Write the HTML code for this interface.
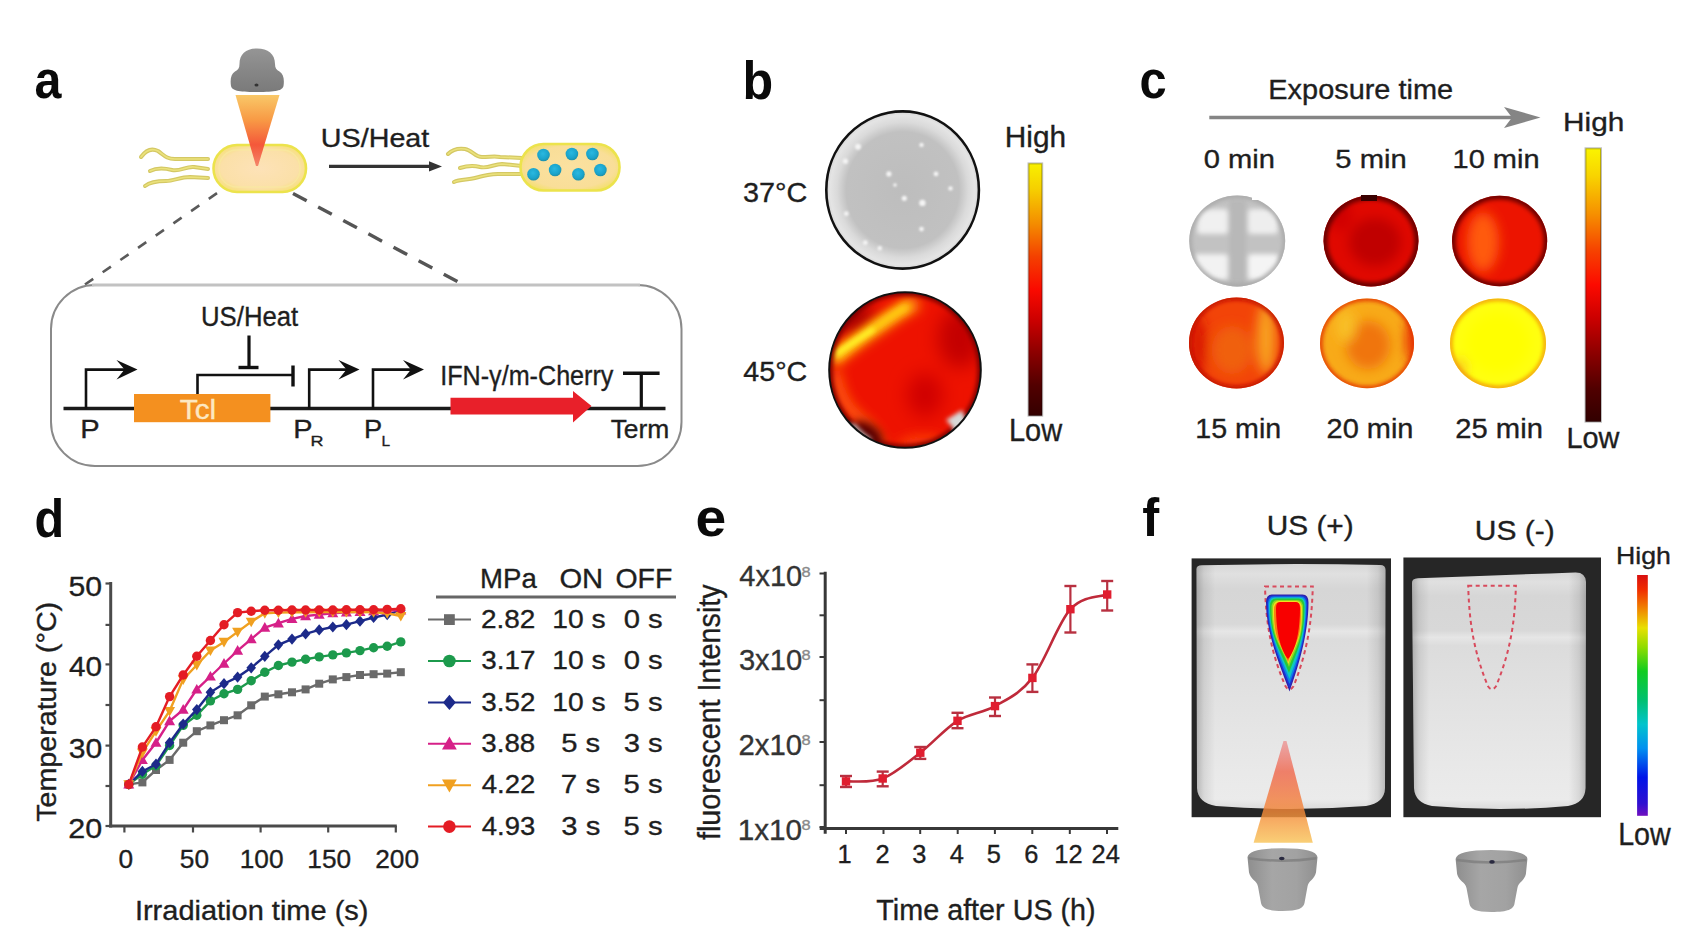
<!DOCTYPE html>
<html><head><meta charset="utf-8"><title>Figure</title>
<style>
html,body{margin:0;padding:0;background:#fff;}
body{width:1704px;height:938px;overflow:hidden;}
svg{display:block;}
text{font-family:"Liberation Sans",Arial,Helvetica,sans-serif;}
</style></head><body>
<svg width="1704" height="938" viewBox="0 0 1704 938">
<defs>
<linearGradient id="coneA" x1="0" y1="0" x2="0" y2="1">
<stop offset="0" stop-color="#f9c868"/><stop offset="0.35" stop-color="#f89a45"/>
<stop offset="0.7" stop-color="#f4583a"/><stop offset="1" stop-color="#f04a3a" stop-opacity="0.6"/></linearGradient>
<linearGradient id="transA" x1="0" y1="0" x2="0" y2="1">
<stop offset="0" stop-color="#959595"/><stop offset="0.5" stop-color="#878787"/><stop offset="1" stop-color="#7a7a7a"/></linearGradient>
<radialGradient id="bactA" cx="0.5" cy="0.5" r="0.6">
<stop offset="0" stop-color="#fde2b8"/><stop offset="0.7" stop-color="#fbe0a8"/><stop offset="1" stop-color="#f6e070"/></radialGradient>
<radialGradient id="bactB" cx="0.5" cy="0.5" r="0.6">
<stop offset="0" stop-color="#fbe1a0"/><stop offset="0.75" stop-color="#f9de98"/><stop offset="1" stop-color="#f2e060"/></radialGradient>
<radialGradient id="dotB" cx="0.45" cy="0.4" r="0.6">
<stop offset="0" stop-color="#2ab8e0"/><stop offset="0.7" stop-color="#1aa4cc"/><stop offset="1" stop-color="#2090a8"/></radialGradient>
<filter id="bl2" filterUnits="userSpaceOnUse" x="0" y="0" width="1704" height="938"><feGaussianBlur stdDeviation="2"/></filter>
<filter id="bl4" filterUnits="userSpaceOnUse" x="0" y="0" width="1704" height="938"><feGaussianBlur stdDeviation="4"/></filter>
<filter id="bl6" filterUnits="userSpaceOnUse" x="0" y="0" width="1704" height="938"><feGaussianBlur stdDeviation="6"/></filter>
<filter id="bl9" filterUnits="userSpaceOnUse" x="0" y="0" width="1704" height="938"><feGaussianBlur stdDeviation="9"/></filter>
<filter id="bl1" filterUnits="userSpaceOnUse" x="0" y="0" width="1704" height="938"><feGaussianBlur stdDeviation="1"/></filter>
<linearGradient id="hotbar" x1="0" y1="0" x2="0" y2="1">
<stop offset="0" stop-color="#f8f000"/><stop offset="0.1" stop-color="#f6d000"/><stop offset="0.24" stop-color="#f48c00"/>
<stop offset="0.37" stop-color="#f44000"/><stop offset="0.5" stop-color="#fa0a00"/><stop offset="0.62" stop-color="#cc0000"/><stop offset="0.75" stop-color="#8c0000"/>
<stop offset="0.88" stop-color="#520000"/><stop offset="1" stop-color="#340000"/></linearGradient>
<linearGradient id="hotbarC" x1="0" y1="0" x2="0" y2="1">
<stop offset="0" stop-color="#faf400"/><stop offset="0.1" stop-color="#f8d400"/><stop offset="0.24" stop-color="#f69000"/>
<stop offset="0.37" stop-color="#f64400"/><stop offset="0.5" stop-color="#fc0a00"/><stop offset="0.62" stop-color="#cc0000"/><stop offset="0.75" stop-color="#8c0000"/>
<stop offset="0.88" stop-color="#500000"/><stop offset="1" stop-color="#320000"/></linearGradient>
<radialGradient id="gray37" cx="0.5" cy="0.5" r="0.5">
<stop offset="0" stop-color="#bdbdbd"/><stop offset="0.74" stop-color="#c1c1c1"/><stop offset="0.86" stop-color="#dadada"/><stop offset="0.95" stop-color="#e4e4e4"/><stop offset="1" stop-color="#d6d6d6"/></radialGradient>
<clipPath id="c45"><ellipse cx="905" cy="370" rx="75.5" ry="77.5"/></clipPath>
<clipPath id="c37"><ellipse cx="902.6" cy="190" rx="76" ry="78.3"/></clipPath>
<clipPath id="cc0"><ellipse cx="1237.2" cy="241" rx="48" ry="45.5"/></clipPath>
<filter id="bl25" filterUnits="userSpaceOnUse" x="0" y="0" width="1704" height="938"><feGaussianBlur stdDeviation="2.5"/></filter>
<clipPath id="cc5"><ellipse cx="1371" cy="241" rx="47.5" ry="45.5"/></clipPath>
<clipPath id="cc10"><ellipse cx="1499.6" cy="241" rx="47.6" ry="45.3"/></clipPath>
<clipPath id="cc15"><ellipse cx="1236.5" cy="343" rx="47.5" ry="45.5"/></clipPath>
<clipPath id="cc20"><ellipse cx="1367" cy="343.4" rx="47" ry="44.8"/></clipPath>
<clipPath id="cc25"><ellipse cx="1498" cy="343.4" rx="48" ry="44.8"/></clipPath>
<linearGradient id="bottleV" x1="0" y1="0" x2="0" y2="1">
<stop offset="0" stop-color="#d6d6d6"/><stop offset="0.04" stop-color="#e0e0e0"/><stop offset="0.1" stop-color="#d6d6d6"/><stop offset="0.245" stop-color="#d8d8d8"/><stop offset="0.275" stop-color="#e6e6e6"/>
<stop offset="0.31" stop-color="#dcdcdc"/><stop offset="0.55" stop-color="#e2e2e2"/><stop offset="0.85" stop-color="#e9e9e9"/><stop offset="0.96" stop-color="#ebebeb"/><stop offset="1" stop-color="#dadada"/></linearGradient>
<linearGradient id="bottleH" x1="0" y1="0" x2="1" y2="0">
<stop offset="0" stop-color="#000" stop-opacity="0.22"/><stop offset="0.04" stop-color="#000" stop-opacity="0.08"/><stop offset="0.1" stop-color="#000" stop-opacity="0"/>
<stop offset="0.9" stop-color="#000" stop-opacity="0"/><stop offset="0.96" stop-color="#000" stop-opacity="0.08"/><stop offset="1" stop-color="#000" stop-opacity="0.22"/></linearGradient>
<linearGradient id="rainbow" x1="0" y1="0" x2="0" y2="1">
<stop offset="0" stop-color="#d81010"/><stop offset="0.06" stop-color="#f02c00"/><stop offset="0.14" stop-color="#f08400"/>
<stop offset="0.22" stop-color="#e8e000"/><stop offset="0.3" stop-color="#90dc00"/><stop offset="0.4" stop-color="#10cc20"/><stop offset="0.52" stop-color="#00c070"/>
<stop offset="0.62" stop-color="#00c4cc"/><stop offset="0.72" stop-color="#0090f0"/><stop offset="0.84" stop-color="#0014e8"/><stop offset="0.95" stop-color="#3010d0"/><stop offset="1" stop-color="#7010c0"/></linearGradient>
<linearGradient id="coneF" x1="0" y1="0" x2="0" y2="1">
<stop offset="0" stop-color="#f05858" stop-opacity="0.55"/><stop offset="0.3" stop-color="#f05a3c" stop-opacity="0.9"/>
<stop offset="0.7" stop-color="#f48a38"/><stop offset="1" stop-color="#f8c458"/></linearGradient>
<linearGradient id="transF" x1="0" y1="0" x2="1" y2="0">
<stop offset="0" stop-color="#8e8e8e"/><stop offset="0.35" stop-color="#a6a6a6"/><stop offset="0.7" stop-color="#a2a2a2"/><stop offset="1" stop-color="#909090"/></linearGradient>
</defs>
<rect width="1704" height="938" fill="#fff"/>
<text x="34.58" y="98.30" font-size="53.50" font-weight="bold" fill="#0a0a0a" textLength="26.91" lengthAdjust="spacingAndGlyphs">a</text>
<text x="742.39" y="98.50" font-size="53.50" font-weight="bold" fill="#0a0a0a" textLength="30.67" lengthAdjust="spacingAndGlyphs">b</text>
<text x="1139.49" y="97.60" font-size="53.50" font-weight="bold" fill="#0a0a0a" textLength="27.14" lengthAdjust="spacingAndGlyphs">c</text>
<text x="34.61" y="537.20" font-size="53.50" font-weight="bold" fill="#0a0a0a" textLength="29.70" lengthAdjust="spacingAndGlyphs">d</text>
<text x="695.44" y="536.00" font-size="53.50" font-weight="bold" fill="#0a0a0a" textLength="30.75" lengthAdjust="spacingAndGlyphs">e</text>
<text x="1142.13" y="536.30" font-size="53.50" font-weight="bold" fill="#0a0a0a" textLength="16.97" lengthAdjust="spacingAndGlyphs">f</text>
<line x1="85" y1="284.5" x2="218" y2="192.5" stroke="#5a5a5a" stroke-width="2.6" stroke-dasharray="10 11.5"/>
<line x1="293" y1="193.5" x2="463" y2="284.5" stroke="#555" stroke-width="3.4" stroke-dasharray="15.5 13"/>
<path d="M141,157 C146,150 152,148 158,151 C164,155 166,159 175,159 L208,159" transform="translate(0,0)" fill="none" stroke="#d4c864" stroke-width="4" stroke-linecap="round"/><path d="M141,157 C146,150 152,148 158,151 C164,155 166,159 175,159 L208,159" transform="translate(0,0)" fill="none" stroke="#ebe27c" stroke-width="1.6" stroke-linecap="round"/><path d="M150,171 C156,168 164,168 172,170 C180,172 186,166 194,167 L208,169" transform="translate(0,0)" fill="none" stroke="#d4c864" stroke-width="4" stroke-linecap="round"/><path d="M150,171 C156,168 164,168 172,170 C180,172 186,166 194,167 L208,169" transform="translate(0,0)" fill="none" stroke="#ebe27c" stroke-width="1.6" stroke-linecap="round"/><path d="M145,186 C150,182 158,181 166,181 C174,181 180,177 190,177 L208,178" transform="translate(0,0)" fill="none" stroke="#d4c864" stroke-width="4" stroke-linecap="round"/><path d="M145,186 C150,182 158,181 166,181 C174,181 180,177 190,177 L208,178" transform="translate(0,0)" fill="none" stroke="#ebe27c" stroke-width="1.6" stroke-linecap="round"/>
<rect x="213.5" y="145" width="92.5" height="47" rx="23.5" fill="url(#bactA)" stroke="#ece34c" stroke-width="2.6"/>
<rect x="219" y="150" width="81" height="37" rx="18" fill="none" stroke="#f8eaa0" stroke-width="1.5" opacity="0.7"/>
<path d="M231,86 C230,79 231,74 235,71.5 C238,70 239.5,68 239.5,64 C239.5,54 246,48.5 257,48.5 C268,48.5 275,54 275,64 C275,68 276.5,70 279.5,71.5 C283.5,74 284.5,79 283.5,86 C282.5,90.5 276,92 257,92 C238,92 232,90.5 231,86 Z" fill="url(#transA)"/>
<ellipse cx="256.5" cy="85" rx="2" ry="1.5" fill="#333"/>
<line x1="236" y1="93.6" x2="279" y2="93.6" stroke="#fff" stroke-width="1.5"/>
<path d="M235.5,95 L279.5,95 L258,166 L256,166 Z" fill="url(#coneA)"/>
<line x1="329" y1="166.4" x2="431" y2="166.4" stroke="#333" stroke-width="3.3"/>
<path d="M429,161.3 L442,166.4 L429,171.5 Z" fill="#333"/>
<text x="320.89" y="146.60" font-size="26.16" stroke="#1e1e1e" stroke-width="0.35" fill="#1e1e1e" textLength="108.42" lengthAdjust="spacingAndGlyphs">US/Heat</text>
<path d="M448,154 C452,150 458,148 465,149 C472,150 475,157 482,157 C490,157 495,156 500,157 L522,158" fill="none" stroke="#d4c864" stroke-width="4" stroke-linecap="round"/><path d="M448,154 C452,150 458,148 465,149 C472,150 475,157 482,157 C490,157 495,156 500,157 L522,158" fill="none" stroke="#ebe27c" stroke-width="1.6" stroke-linecap="round"/><path d="M460,168 C466,166 473,165 480,167 C488,169 494,164 502,164 L522,166" fill="none" stroke="#d4c864" stroke-width="4" stroke-linecap="round"/><path d="M460,168 C466,166 473,165 480,167 C488,169 494,164 502,164 L522,166" fill="none" stroke="#ebe27c" stroke-width="1.6" stroke-linecap="round"/><path d="M454,182 C460,179 468,180 475,178 C482,176 490,174 498,174 L522,174" fill="none" stroke="#d4c864" stroke-width="4" stroke-linecap="round"/><path d="M454,182 C460,179 468,180 475,178 C482,176 490,174 498,174 L522,174" fill="none" stroke="#ebe27c" stroke-width="1.6" stroke-linecap="round"/>
<rect x="520.5" y="144" width="99" height="46.5" rx="23" fill="url(#bactB)" stroke="#ece34c" stroke-width="2.6"/>
<circle cx="543.5" cy="155" r="6.3" fill="url(#dotB)"/>
<circle cx="571.9" cy="154" r="6.3" fill="url(#dotB)"/>
<circle cx="592.4" cy="154" r="6.3" fill="url(#dotB)"/>
<circle cx="533.5" cy="174.2" r="6.3" fill="url(#dotB)"/>
<circle cx="555.1" cy="170" r="6.3" fill="url(#dotB)"/>
<circle cx="578.4" cy="174.2" r="6.3" fill="url(#dotB)"/>
<circle cx="600.4" cy="170" r="6.3" fill="url(#dotB)"/>
<rect x="51" y="285" width="630.5" height="181" rx="44" fill="#fff" stroke="#8a8a8a" stroke-width="2"/>
<line x1="92" y1="285" x2="640" y2="285" stroke="#c2c2c2" stroke-width="3"/>
<line x1="63.5" y1="408.5" x2="665.5" y2="408.5" stroke="#1a1a1a" stroke-width="3.6"/>
<rect x="134" y="394" width="136.4" height="28.2" fill="#f4901f"/>
<text x="179.79" y="418.70" font-size="26.74" stroke="#fde8c2" stroke-width="0.35" fill="#fde8c2" textLength="36.34" lengthAdjust="spacingAndGlyphs">Tcl</text>
<path d="M86,408.5 L86,369.6 L129.5,369.6" fill="none" stroke="#111" stroke-width="2.6"/><path d="M137.5,369.6 L116.5,360 L124.5,369.6 L116.5,379.5 Z" fill="#111"/>
<path d="M309.2,408.5 L309.2,369.6 L351.5,369.6" fill="none" stroke="#111" stroke-width="2.6"/><path d="M359.5,369.6 L338.5,360 L346.5,369.6 L338.5,379.5 Z" fill="#111"/>
<path d="M373,408.5 L373,369.6 L416,369.6" fill="none" stroke="#111" stroke-width="2.6"/><path d="M424,369.6 L403,360 L411,369.6 L403,379.5 Z" fill="#111"/>
<path d="M197.5,394 L197.5,375 L292,375" fill="none" stroke="#111" stroke-width="2.6"/>
<line x1="293" y1="365.5" x2="293" y2="386.5" stroke="#111" stroke-width="3.4"/>
<line x1="249" y1="335.5" x2="249" y2="367" stroke="#111" stroke-width="3.2"/>
<line x1="238.5" y1="367.5" x2="258.5" y2="367.5" stroke="#111" stroke-width="3.4"/>
<text x="201.01" y="326.40" font-size="27.18" stroke="#1e1e1e" stroke-width="0.35" fill="#1e1e1e" textLength="97.27" lengthAdjust="spacingAndGlyphs">US/Heat</text>
<path d="M450.5,397.8 L573,397.8 L573,391 L591.5,406.1 L573,422.5 L573,414.4 L450.5,414.4 Z" fill="#e8202a"/>
<line x1="641.3" y1="408" x2="641.3" y2="373" stroke="#111" stroke-width="3.2"/>
<line x1="623" y1="373.3" x2="659.6" y2="373.3" stroke="#111" stroke-width="3.4"/>
<text x="440.18" y="385.10" font-size="26.74" stroke="#1e1e1e" stroke-width="0.35" fill="#1e1e1e" textLength="173.27" lengthAdjust="spacingAndGlyphs">IFN-γ/m-Cherry</text>
<text x="610.63" y="437.90" font-size="26.60" stroke="#1e1e1e" stroke-width="0.35" fill="#1e1e1e" textLength="58.72" lengthAdjust="spacingAndGlyphs">Term</text>
<text x="80.21" y="437.70" font-size="26.16" stroke="#1e1e1e" stroke-width="0.35" fill="#1e1e1e" textLength="19.42" lengthAdjust="spacingAndGlyphs">P</text>
<text x="293.23" y="437.70" font-size="26.16" stroke="#1e1e1e" stroke-width="0.35" fill="#1e1e1e" textLength="19.30" lengthAdjust="spacingAndGlyphs">P</text>
<text x="310.52" y="445.80" font-size="14.53" stroke="#1e1e1e" stroke-width="0.35" fill="#1e1e1e" textLength="13.01" lengthAdjust="spacingAndGlyphs">R</text>
<text x="364.07" y="437.70" font-size="26.16" stroke="#1e1e1e" stroke-width="0.35" fill="#1e1e1e" textLength="18.17" lengthAdjust="spacingAndGlyphs">P</text>
<text x="381.43" y="445.80" font-size="14.53" stroke="#1e1e1e" stroke-width="0.35" fill="#1e1e1e" textLength="8.58" lengthAdjust="spacingAndGlyphs">L</text>
<ellipse cx="902.6" cy="190" rx="76.3" ry="78.6" fill="url(#gray37)"/>
<g clip-path="url(#c37)" filter="url(#bl1)"><circle cx="858" cy="146.7" r="3" fill="#f4f4f4"/><circle cx="845.4" cy="161.2" r="2.6" fill="#f4f4f4"/><circle cx="888.9" cy="173.9" r="2.6" fill="#f4f4f4"/><circle cx="936" cy="173.9" r="2.4" fill="#f4f4f4"/><circle cx="921.5" cy="144.9" r="2.2" fill="#f4f4f4"/><circle cx="904.3" cy="198.3" r="2.6" fill="#f4f4f4"/><circle cx="922.4" cy="202.9" r="3.2" fill="#f4f4f4"/><circle cx="950.5" cy="188.4" r="2.2" fill="#f4f4f4"/><circle cx="921.5" cy="229.1" r="2.4" fill="#f4f4f4"/><circle cx="865.3" cy="242.7" r="2.4" fill="#f4f4f4"/><circle cx="846.3" cy="213.7" r="2.4" fill="#f4f4f4"/><circle cx="879.8" cy="248.2" r="2.2" fill="#f4f4f4"/><circle cx="895" cy="185" r="1.8" fill="#f4f4f4"/></g>
<ellipse cx="902.6" cy="190" rx="76.3" ry="78.6" fill="none" stroke="#111" stroke-width="2.6"/>
<g clip-path="url(#c45)"><rect x="820" y="285" width="170" height="170" fill="#ee1200"/><g filter="url(#bl9)"><ellipse cx="960" cy="338" rx="22" ry="30" fill="#c40000"/><ellipse cx="925" cy="395" rx="18" ry="22" fill="#d00400"/><ellipse cx="852" cy="318" rx="22" ry="16" fill="#a80000"/></g><g filter="url(#bl6)"><path d="M836,372 C838,392 846,408 862,420 C872,428 878,438 882,450" stroke="#ff6010" stroke-width="10" fill="none"/><path d="M900,446 C910,440 925,438 940,442" stroke="#ff4a10" stroke-width="8" fill="none"/><path d="M832,362 C845,348 865,336 885,322 C897,314 907,307 918,302" stroke="#ff8a10" stroke-width="15" fill="none"/></g><g filter="url(#bl4)"><path d="M834,358 C848,346 866,334 884,321 C894,314 902,309 909,305" stroke="#ffe010" stroke-width="9" fill="none"/></g><g filter="url(#bl25)"><path d="M836,354 C848,345 860,338 874,329" stroke="#ffff30" stroke-width="4" fill="none"/></g><ellipse cx="905" cy="370" rx="75.5" ry="77.5" fill="none" stroke="#7a0000" stroke-width="6" filter="url(#bl2)"/><ellipse cx="868" cy="433" rx="17" ry="9" transform="rotate(35 868 433)" fill="#5a0000" filter="url(#bl4)"/><g filter="url(#bl2)"><path d="M848,420 C856,432 866,440 882,448 L860,452 L838,430 Z" fill="#3a0000"/><path d="M946,420 C952,426 956,430 954,438 L968,426 L962,410 Z" fill="#d8d8d8"/><path d="M853,424 C858,430 864,436 871,440" stroke="#d0d0d0" stroke-width="3" fill="none"/></g></g>
<ellipse cx="905" cy="370" rx="75.8" ry="77.8" fill="none" stroke="#111" stroke-width="2"/>
<rect x="1028.5" y="163.4" width="13.7" height="252.3" fill="url(#hotbar)"/>
<rect x="1028.5" y="163.4" width="13.7" height="252.3" fill="none" stroke="#000" stroke-opacity="0.25" stroke-width="2"/>
<text x="1004.86" y="147.00" font-size="29.07" stroke="#1e1e1e" stroke-width="0.35" fill="#1e1e1e" textLength="61.28" lengthAdjust="spacingAndGlyphs">High</text>
<text x="1008.92" y="440.80" font-size="30.52" stroke="#1e1e1e" stroke-width="0.35" fill="#1e1e1e" textLength="53.21" lengthAdjust="spacingAndGlyphs">Low</text>
<text x="742.90" y="201.80" font-size="27.47" stroke="#1e1e1e" stroke-width="0.35" fill="#1e1e1e" textLength="64.40" lengthAdjust="spacingAndGlyphs">37°C</text>
<text x="743.34" y="380.90" font-size="27.47" stroke="#1e1e1e" stroke-width="0.35" fill="#1e1e1e" textLength="63.95" lengthAdjust="spacingAndGlyphs">45°C</text>
<line x1="1209.3" y1="117.5" x2="1512" y2="117.5" stroke="#858585" stroke-width="3.6"/>
<path d="M1504,107 L1540.5,117.5 L1504,128 L1512,117.5 Z" fill="#858585"/>
<text x="1268.33" y="98.90" font-size="26.89" stroke="#1e1e1e" stroke-width="0.35" fill="#1e1e1e" textLength="184.76" lengthAdjust="spacingAndGlyphs">Exposure time</text>
<text x="1563.06" y="131.20" font-size="26.16" stroke="#1e1e1e" stroke-width="0.35" fill="#1e1e1e" textLength="61.28" lengthAdjust="spacingAndGlyphs">High</text>
<text x="1566.43" y="448.00" font-size="28.63" stroke="#1e1e1e" stroke-width="0.35" fill="#1e1e1e" textLength="53.00" lengthAdjust="spacingAndGlyphs">Low</text>
<text x="1203.66" y="167.80" font-size="26.16" stroke="#1e1e1e" stroke-width="0.35" fill="#1e1e1e" textLength="71.23" lengthAdjust="spacingAndGlyphs">0 min</text>
<text x="1335.33" y="167.80" font-size="26.16" stroke="#1e1e1e" stroke-width="0.35" fill="#1e1e1e" textLength="71.36" lengthAdjust="spacingAndGlyphs">5 min</text>
<text x="1452.59" y="167.80" font-size="26.16" stroke="#1e1e1e" stroke-width="0.35" fill="#1e1e1e" textLength="86.99" lengthAdjust="spacingAndGlyphs">10 min</text>
<text x="1195.32" y="437.80" font-size="27.47" stroke="#1e1e1e" stroke-width="0.35" fill="#1e1e1e" textLength="85.94" lengthAdjust="spacingAndGlyphs">15 min</text>
<text x="1326.54" y="437.80" font-size="27.47" stroke="#1e1e1e" stroke-width="0.35" fill="#1e1e1e" textLength="86.94" lengthAdjust="spacingAndGlyphs">20 min</text>
<text x="1455.23" y="437.80" font-size="27.47" stroke="#1e1e1e" stroke-width="0.35" fill="#1e1e1e" textLength="87.67" lengthAdjust="spacingAndGlyphs">25 min</text>
<rect x="1585.5" y="148.3" width="15.5" height="273.4" fill="url(#hotbarC)"/>
<rect x="1585.5" y="148.3" width="15.5" height="273.4" fill="none" stroke="#000" stroke-opacity="0.25" stroke-width="2"/>
<g clip-path="url(#cc0)"><rect x="1185" y="190" width="105" height="100" fill="#c2c2c2"/><g filter="url(#bl25)"><rect x="1197" y="209" width="31" height="25" rx="4" fill="#f0f0f0"/><rect x="1248" y="209" width="30" height="25" rx="4" fill="#eeeeee"/><rect x="1194" y="254" width="34" height="26" rx="4" fill="#f2f2f2"/><rect x="1248" y="254" width="31" height="26" rx="4" fill="#f4f4f4"/><rect x="1229" y="200" width="17" height="88" fill="#b8b8b8"/></g><ellipse cx="1237.2" cy="241" rx="48" ry="45.5" fill="none" stroke="#a8a8a8" stroke-width="5" filter="url(#bl2)"/></g>
<rect x="1252" y="193" width="14" height="7" fill="#fff"/>
<g clip-path="url(#cc5)"><rect x="1321.5" y="193.5" width="99.0" height="95.0" fill="#e00800"/><g filter="url(#bl6)"><ellipse cx="1375" cy="242" rx="26" ry="24" fill="#c00000"/><ellipse cx="1340" cy="215" rx="12" ry="16" fill="#d00000"/></g><ellipse cx="1371" cy="241" rx="47.5" ry="45.5" fill="none" stroke="#6a0000" stroke-width="8" filter="url(#bl2)"/></g>
<rect x="1361" y="195" width="16" height="6" fill="#3a0000"/>
<g clip-path="url(#cc10)"><rect x="1450.0" y="193.7" width="99.2" height="94.6" fill="#ec1400"/><g filter="url(#bl6)"><ellipse cx="1483" cy="242" rx="16" ry="30" fill="#ff5a10"/></g><ellipse cx="1499.6" cy="241" rx="47.6" ry="45.3" fill="none" stroke="#6a0000" stroke-width="7" filter="url(#bl2)"/></g>
<g clip-path="url(#cc15)"><rect x="1187.0" y="295.5" width="99.0" height="95.0" fill="#f24408"/><g filter="url(#bl6)"><ellipse cx="1266" cy="338" rx="9" ry="36" fill="#f8a420"/><ellipse cx="1232" cy="350" rx="20" ry="24" fill="#f06010"/><ellipse cx="1198" cy="345" rx="8" ry="30" fill="#d81400"/></g><ellipse cx="1236.5" cy="343" rx="47.5" ry="45.5" fill="none" stroke="#c01000" stroke-width="5" filter="url(#bl2)"/></g>
<g clip-path="url(#cc20)"><rect x="1318" y="296.59999999999997" width="98" height="93.6" fill="#f8aa18"/><g filter="url(#bl6)"><ellipse cx="1368" cy="345" rx="22" ry="24" fill="#f07410"/><ellipse cx="1346" cy="326" rx="10" ry="16" fill="#f8c028"/><ellipse cx="1411" cy="340" rx="5" ry="22" fill="#e82000"/></g><ellipse cx="1367" cy="343.4" rx="47" ry="44.8" fill="none" stroke="#e02800" stroke-width="4" filter="url(#bl2)"/></g>
<g clip-path="url(#cc25)"><rect x="1448" y="296.59999999999997" width="100" height="93.6" fill="#ffff10"/><g filter="url(#bl6)"><ellipse cx="1498" cy="343" rx="32" ry="30" fill="#ffff00"/><ellipse cx="1460" cy="368" rx="6" ry="10" fill="#f8c020"/></g><ellipse cx="1498" cy="343.4" rx="48" ry="44.8" fill="none" stroke="#f08c10" stroke-width="4" filter="url(#bl2)"/></g>
<line x1="110.7" y1="582" x2="110.7" y2="827.5" stroke="#4a4a4a" stroke-width="3"/>
<line x1="109.2" y1="826" x2="396.8" y2="826" stroke="#4a4a4a" stroke-width="3"/>
<line x1="105.5" y1="583.5" x2="110" y2="583.5" stroke="#4a4a4a" stroke-width="2.2"/>
<line x1="105.5" y1="624.9" x2="110" y2="624.9" stroke="#4a4a4a" stroke-width="2.2"/>
<line x1="105.5" y1="664.4" x2="110" y2="664.4" stroke="#4a4a4a" stroke-width="2.2"/>
<line x1="105.5" y1="705" x2="110" y2="705" stroke="#4a4a4a" stroke-width="2.2"/>
<line x1="105.5" y1="745.6" x2="110" y2="745.6" stroke="#4a4a4a" stroke-width="2.2"/>
<line x1="105.5" y1="786" x2="110" y2="786" stroke="#4a4a4a" stroke-width="2.2"/>
<line x1="105.5" y1="826" x2="110" y2="826" stroke="#4a4a4a" stroke-width="2.2"/>
<line x1="124.4" y1="826" x2="124.4" y2="832.5" stroke="#4a4a4a" stroke-width="2.2"/>
<line x1="193" y1="826" x2="193" y2="832.5" stroke="#4a4a4a" stroke-width="2.2"/>
<line x1="260.6" y1="826" x2="260.6" y2="832.5" stroke="#4a4a4a" stroke-width="2.2"/>
<line x1="328.2" y1="826" x2="328.2" y2="832.5" stroke="#4a4a4a" stroke-width="2.2"/>
<line x1="395.8" y1="826" x2="395.8" y2="832.5" stroke="#4a4a4a" stroke-width="2.2"/>
<text x="68.59" y="595.50" font-size="28.25" stroke="#1e1e1e" stroke-width="0.35" fill="#1e1e1e" textLength="33.59" lengthAdjust="spacingAndGlyphs">50</text>
<text x="69.12" y="676.40" font-size="28.25" stroke="#1e1e1e" stroke-width="0.35" fill="#1e1e1e" textLength="33.04" lengthAdjust="spacingAndGlyphs">40</text>
<text x="68.65" y="757.60" font-size="28.25" stroke="#1e1e1e" stroke-width="0.35" fill="#1e1e1e" textLength="33.53" lengthAdjust="spacingAndGlyphs">30</text>
<text x="68.27" y="838.00" font-size="28.25" stroke="#1e1e1e" stroke-width="0.35" fill="#1e1e1e" textLength="33.93" lengthAdjust="spacingAndGlyphs">20</text>
<text x="118.59" y="867.80" font-size="26.27" stroke="#1e1e1e" stroke-width="0.35" fill="#1e1e1e" textLength="14.61" lengthAdjust="spacingAndGlyphs">0</text>
<text x="179.88" y="867.80" font-size="26.27" stroke="#1e1e1e" stroke-width="0.35" fill="#1e1e1e" textLength="29.22" lengthAdjust="spacingAndGlyphs">50</text>
<text x="239.70" y="867.80" font-size="26.27" stroke="#1e1e1e" stroke-width="0.35" fill="#1e1e1e" textLength="43.83" lengthAdjust="spacingAndGlyphs">100</text>
<text x="307.30" y="867.80" font-size="26.27" stroke="#1e1e1e" stroke-width="0.35" fill="#1e1e1e" textLength="43.83" lengthAdjust="spacingAndGlyphs">150</text>
<text x="375.24" y="867.80" font-size="26.27" stroke="#1e1e1e" stroke-width="0.35" fill="#1e1e1e" textLength="43.83" lengthAdjust="spacingAndGlyphs">200</text>
<text x="134.92" y="919.90" font-size="27.91" stroke="#1e1e1e" stroke-width="0.35" fill="#1e1e1e" textLength="233.57" lengthAdjust="spacingAndGlyphs">Irradiation time (s)</text>
<text transform="translate(55.60,821.73) rotate(-90)" x="0" y="0" font-size="28.34" stroke="#1e1e1e" stroke-width="0.35" fill="#1e1e1e" textLength="219.88" lengthAdjust="spacingAndGlyphs">Temperature (°C)</text>
<polyline points="128.8,784.4 142.4,782.4 156.0,770.0 169.6,759.9 183.2,742.7 196.8,731.2 210.4,725.4 224.0,720.2 237.6,715.3 251.2,705.3 264.8,696.6 278.4,694.3 292.0,692.3 305.6,689.4 319.2,683.7 332.8,679.4 346.4,677.1 360.0,675.0 373.6,674.2 387.2,673.6 400.8,672.2" fill="none" stroke="#6a6a6a" stroke-width="2.4"/>
<rect x="124.8" y="780.4" width="8.0" height="8.0" fill="#6a6a6a"/><rect x="138.4" y="778.4" width="8.0" height="8.0" fill="#6a6a6a"/><rect x="152.0" y="766.0" width="8.0" height="8.0" fill="#6a6a6a"/><rect x="165.6" y="755.9" width="8.0" height="8.0" fill="#6a6a6a"/><rect x="179.2" y="738.7" width="8.0" height="8.0" fill="#6a6a6a"/><rect x="192.8" y="727.2" width="8.0" height="8.0" fill="#6a6a6a"/><rect x="206.4" y="721.4" width="8.0" height="8.0" fill="#6a6a6a"/><rect x="220.0" y="716.2" width="8.0" height="8.0" fill="#6a6a6a"/><rect x="233.6" y="711.3" width="8.0" height="8.0" fill="#6a6a6a"/><rect x="247.2" y="701.3" width="8.0" height="8.0" fill="#6a6a6a"/><rect x="260.8" y="692.6" width="8.0" height="8.0" fill="#6a6a6a"/><rect x="274.4" y="690.3" width="8.0" height="8.0" fill="#6a6a6a"/><rect x="288.0" y="688.3" width="8.0" height="8.0" fill="#6a6a6a"/><rect x="301.6" y="685.4" width="8.0" height="8.0" fill="#6a6a6a"/><rect x="315.2" y="679.7" width="8.0" height="8.0" fill="#6a6a6a"/><rect x="328.8" y="675.4" width="8.0" height="8.0" fill="#6a6a6a"/><rect x="342.4" y="673.1" width="8.0" height="8.0" fill="#6a6a6a"/><rect x="356.0" y="671.0" width="8.0" height="8.0" fill="#6a6a6a"/><rect x="369.6" y="670.2" width="8.0" height="8.0" fill="#6a6a6a"/><rect x="383.2" y="669.6" width="8.0" height="8.0" fill="#6a6a6a"/><rect x="396.8" y="668.2" width="8.0" height="8.0" fill="#6a6a6a"/>
<polyline points="128.8,784.4 142.4,774.3 156.0,765.7 169.6,745.5 183.2,725.4 196.8,715.3 210.4,700.9 224.0,693.7 237.6,689.4 251.2,680.8 264.8,672.2 278.4,665.5 292.0,662.1 305.6,659.2 319.2,656.9 332.8,654.9 346.4,652.9 360.0,650.6 373.6,647.7 387.2,646.3 400.8,641.9" fill="none" stroke="#1c9a4c" stroke-width="2.4"/>
<circle cx="128.8" cy="784.4" r="4.7" fill="#1c9a4c"/><circle cx="142.4" cy="774.3" r="4.7" fill="#1c9a4c"/><circle cx="156.0" cy="765.7" r="4.7" fill="#1c9a4c"/><circle cx="169.6" cy="745.5" r="4.7" fill="#1c9a4c"/><circle cx="183.2" cy="725.4" r="4.7" fill="#1c9a4c"/><circle cx="196.8" cy="715.3" r="4.7" fill="#1c9a4c"/><circle cx="210.4" cy="700.9" r="4.7" fill="#1c9a4c"/><circle cx="224.0" cy="693.7" r="4.7" fill="#1c9a4c"/><circle cx="237.6" cy="689.4" r="4.7" fill="#1c9a4c"/><circle cx="251.2" cy="680.8" r="4.7" fill="#1c9a4c"/><circle cx="264.8" cy="672.2" r="4.7" fill="#1c9a4c"/><circle cx="278.4" cy="665.5" r="4.7" fill="#1c9a4c"/><circle cx="292.0" cy="662.1" r="4.7" fill="#1c9a4c"/><circle cx="305.6" cy="659.2" r="4.7" fill="#1c9a4c"/><circle cx="319.2" cy="656.9" r="4.7" fill="#1c9a4c"/><circle cx="332.8" cy="654.9" r="4.7" fill="#1c9a4c"/><circle cx="346.4" cy="652.9" r="4.7" fill="#1c9a4c"/><circle cx="360.0" cy="650.6" r="4.7" fill="#1c9a4c"/><circle cx="373.6" cy="647.7" r="4.7" fill="#1c9a4c"/><circle cx="387.2" cy="646.3" r="4.7" fill="#1c9a4c"/><circle cx="400.8" cy="641.9" r="4.7" fill="#1c9a4c"/>
<polyline points="128.8,784.4 142.4,771.4 156.0,764.2 169.6,742.7 183.2,724.0 196.8,709.6 210.4,692.3 224.0,683.7 237.6,677.1 251.2,667.8 264.8,656.3 278.4,644.8 292.0,639.1 305.6,633.9 319.2,629.9 332.8,627.0 346.4,624.7 360.0,621.2 373.6,617.5 387.2,614.6 400.8,610.3" fill="none" stroke="#1c2a8a" stroke-width="2.4"/>
<path d="M128.8,778.8 L133.6,784.4 L128.8,790.0 L124.0,784.4 Z" fill="#1c2a8a"/><path d="M142.4,765.8 L147.2,771.4 L142.4,777.0 L137.6,771.4 Z" fill="#1c2a8a"/><path d="M156.0,758.6 L160.8,764.2 L156.0,769.8 L151.2,764.2 Z" fill="#1c2a8a"/><path d="M169.6,737.1 L174.4,742.7 L169.6,748.3 L164.8,742.7 Z" fill="#1c2a8a"/><path d="M183.2,718.4 L188.0,724.0 L183.2,729.6 L178.4,724.0 Z" fill="#1c2a8a"/><path d="M196.8,704.0 L201.6,709.6 L196.8,715.2 L192.0,709.6 Z" fill="#1c2a8a"/><path d="M210.4,686.7 L215.2,692.3 L210.4,697.9 L205.6,692.3 Z" fill="#1c2a8a"/><path d="M224.0,678.1 L228.8,683.7 L224.0,689.3 L219.2,683.7 Z" fill="#1c2a8a"/><path d="M237.6,671.5 L242.4,677.1 L237.6,682.7 L232.8,677.1 Z" fill="#1c2a8a"/><path d="M251.2,662.2 L256.0,667.8 L251.2,673.4 L246.4,667.8 Z" fill="#1c2a8a"/><path d="M264.8,650.7 L269.6,656.3 L264.8,661.9 L260.0,656.3 Z" fill="#1c2a8a"/><path d="M278.4,639.2 L283.2,644.8 L278.4,650.4 L273.6,644.8 Z" fill="#1c2a8a"/><path d="M292.0,633.5 L296.8,639.1 L292.0,644.7 L287.2,639.1 Z" fill="#1c2a8a"/><path d="M305.6,628.3 L310.4,633.9 L305.6,639.5 L300.8,633.9 Z" fill="#1c2a8a"/><path d="M319.2,624.3 L324.0,629.9 L319.2,635.5 L314.4,629.9 Z" fill="#1c2a8a"/><path d="M332.8,621.4 L337.6,627.0 L332.8,632.6 L328.0,627.0 Z" fill="#1c2a8a"/><path d="M346.4,619.1 L351.2,624.7 L346.4,630.3 L341.6,624.7 Z" fill="#1c2a8a"/><path d="M360.0,615.6 L364.8,621.2 L360.0,626.8 L355.2,621.2 Z" fill="#1c2a8a"/><path d="M373.6,611.9 L378.4,617.5 L373.6,623.1 L368.8,617.5 Z" fill="#1c2a8a"/><path d="M387.2,609.0 L392.0,614.6 L387.2,620.2 L382.4,614.6 Z" fill="#1c2a8a"/><path d="M400.8,604.7 L405.6,610.3 L400.8,615.9 L396.0,610.3 Z" fill="#1c2a8a"/>
<polyline points="128.8,784.4 142.4,759.9 156.0,742.7 169.6,721.1 183.2,709.6 196.8,689.4 210.4,676.5 224.0,663.5 237.6,650.6 251.2,639.1 264.8,627.6 278.4,623.2 292.0,618.9 305.6,616.0 319.2,614.6 332.8,613.2 346.4,612.3 360.0,611.7 373.6,611.2 387.2,610.6 400.8,610.3" fill="none" stroke="#d62088" stroke-width="2.4"/>
<path d="M128.8,778.9 L134.3,788.5 L123.3,788.5 Z" fill="#d62088"/><path d="M142.4,754.4 L147.9,764.1 L136.9,764.1 Z" fill="#d62088"/><path d="M156.0,737.2 L161.5,746.8 L150.5,746.8 Z" fill="#d62088"/><path d="M169.6,715.6 L175.1,725.2 L164.1,725.2 Z" fill="#d62088"/><path d="M183.2,704.1 L188.7,713.7 L177.7,713.7 Z" fill="#d62088"/><path d="M196.8,683.9 L202.3,693.5 L191.3,693.5 Z" fill="#d62088"/><path d="M210.4,671.0 L215.9,680.6 L204.9,680.6 Z" fill="#d62088"/><path d="M224.0,658.0 L229.5,667.7 L218.5,667.7 Z" fill="#d62088"/><path d="M237.6,645.1 L243.1,654.7 L232.1,654.7 Z" fill="#d62088"/><path d="M251.2,633.6 L256.7,643.2 L245.7,643.2 Z" fill="#d62088"/><path d="M264.8,622.1 L270.3,631.7 L259.3,631.7 Z" fill="#d62088"/><path d="M278.4,617.7 L283.9,627.4 L272.9,627.4 Z" fill="#d62088"/><path d="M292.0,613.4 L297.5,623.0 L286.5,623.0 Z" fill="#d62088"/><path d="M305.6,610.5 L311.1,620.2 L300.1,620.2 Z" fill="#d62088"/><path d="M319.2,609.1 L324.7,618.7 L313.7,618.7 Z" fill="#d62088"/><path d="M332.8,607.7 L338.3,617.3 L327.3,617.3 Z" fill="#d62088"/><path d="M346.4,606.8 L351.9,616.4 L340.9,616.4 Z" fill="#d62088"/><path d="M360.0,606.2 L365.5,615.9 L354.5,615.9 Z" fill="#d62088"/><path d="M373.6,605.7 L379.1,615.3 L368.1,615.3 Z" fill="#d62088"/><path d="M387.2,605.1 L392.7,614.7 L381.7,614.7 Z" fill="#d62088"/><path d="M400.8,604.8 L406.3,614.4 L395.3,614.4 Z" fill="#d62088"/>
<polyline points="128.8,784.4 142.4,752.7 156.0,731.2 169.6,711.0 183.2,679.4 196.8,665.0 210.4,650.6 224.0,641.9 237.6,631.9 251.2,621.8 264.8,613.2 278.4,612.6 292.0,612.3 305.6,612.3 319.2,612.0 332.8,612.0 346.4,612.0 360.0,612.0 373.6,612.3 387.2,613.2 400.8,616.0" fill="none" stroke="#f0a020" stroke-width="2.4"/>
<path d="M128.8,789.9 L134.3,780.3 L123.3,780.3 Z" fill="#f0a020"/><path d="M142.4,758.2 L147.9,748.6 L136.9,748.6 Z" fill="#f0a020"/><path d="M156.0,736.7 L161.5,727.0 L150.5,727.0 Z" fill="#f0a020"/><path d="M169.6,716.5 L175.1,706.9 L164.1,706.9 Z" fill="#f0a020"/><path d="M183.2,684.9 L188.7,675.2 L177.7,675.2 Z" fill="#f0a020"/><path d="M196.8,670.5 L202.3,660.8 L191.3,660.8 Z" fill="#f0a020"/><path d="M210.4,656.1 L215.9,646.5 L204.9,646.5 Z" fill="#f0a020"/><path d="M224.0,647.4 L229.5,637.8 L218.5,637.8 Z" fill="#f0a020"/><path d="M237.6,637.4 L243.1,627.7 L232.1,627.7 Z" fill="#f0a020"/><path d="M251.2,627.3 L256.7,617.7 L245.7,617.7 Z" fill="#f0a020"/><path d="M264.8,618.7 L270.3,609.0 L259.3,609.0 Z" fill="#f0a020"/><path d="M278.4,618.1 L283.9,608.5 L272.9,608.5 Z" fill="#f0a020"/><path d="M292.0,617.8 L297.5,608.2 L286.5,608.2 Z" fill="#f0a020"/><path d="M305.6,617.8 L311.1,608.2 L300.1,608.2 Z" fill="#f0a020"/><path d="M319.2,617.5 L324.7,607.9 L313.7,607.9 Z" fill="#f0a020"/><path d="M332.8,617.5 L338.3,607.9 L327.3,607.9 Z" fill="#f0a020"/><path d="M346.4,617.5 L351.9,607.9 L340.9,607.9 Z" fill="#f0a020"/><path d="M360.0,617.5 L365.5,607.9 L354.5,607.9 Z" fill="#f0a020"/><path d="M373.6,617.8 L379.1,608.2 L368.1,608.2 Z" fill="#f0a020"/><path d="M387.2,618.7 L392.7,609.0 L381.7,609.0 Z" fill="#f0a020"/><path d="M400.8,621.5 L406.3,611.9 L395.3,611.9 Z" fill="#f0a020"/>
<polyline points="128.8,784.4 142.4,747.0 156.0,726.8 169.6,696.6 183.2,675.0 196.8,656.3 210.4,640.5 224.0,624.7 237.6,612.6 251.2,611.2 264.8,610.3 278.4,610.3 292.0,610.0 305.6,610.0 319.2,610.0 332.8,610.0 346.4,609.7 360.0,609.7 373.6,609.7 387.2,609.4 400.8,608.8" fill="none" stroke="#e41c24" stroke-width="2.4"/>
<circle cx="128.8" cy="784.4" r="4.7" fill="#e41c24"/><circle cx="142.4" cy="747.0" r="4.7" fill="#e41c24"/><circle cx="156.0" cy="726.8" r="4.7" fill="#e41c24"/><circle cx="169.6" cy="696.6" r="4.7" fill="#e41c24"/><circle cx="183.2" cy="675.0" r="4.7" fill="#e41c24"/><circle cx="196.8" cy="656.3" r="4.7" fill="#e41c24"/><circle cx="210.4" cy="640.5" r="4.7" fill="#e41c24"/><circle cx="224.0" cy="624.7" r="4.7" fill="#e41c24"/><circle cx="237.6" cy="612.6" r="4.7" fill="#e41c24"/><circle cx="251.2" cy="611.2" r="4.7" fill="#e41c24"/><circle cx="264.8" cy="610.3" r="4.7" fill="#e41c24"/><circle cx="278.4" cy="610.3" r="4.7" fill="#e41c24"/><circle cx="292.0" cy="610.0" r="4.7" fill="#e41c24"/><circle cx="305.6" cy="610.0" r="4.7" fill="#e41c24"/><circle cx="319.2" cy="610.0" r="4.7" fill="#e41c24"/><circle cx="332.8" cy="610.0" r="4.7" fill="#e41c24"/><circle cx="346.4" cy="609.7" r="4.7" fill="#e41c24"/><circle cx="360.0" cy="609.7" r="4.7" fill="#e41c24"/><circle cx="373.6" cy="609.7" r="4.7" fill="#e41c24"/><circle cx="387.2" cy="609.4" r="4.7" fill="#e41c24"/><circle cx="400.8" cy="608.8" r="4.7" fill="#e41c24"/>
<text x="480.14" y="587.80" font-size="27.03" stroke="#1e1e1e" stroke-width="0.35" fill="#1e1e1e" textLength="56.66" lengthAdjust="spacingAndGlyphs">MPa</text>
<text x="559.42" y="587.80" font-size="27.03" stroke="#1e1e1e" stroke-width="0.35" fill="#1e1e1e" textLength="43.76" lengthAdjust="spacingAndGlyphs">ON</text>
<text x="615.45" y="587.80" font-size="27.03" stroke="#1e1e1e" stroke-width="0.35" fill="#1e1e1e" textLength="56.89" lengthAdjust="spacingAndGlyphs">OFF</text>
<line x1="436" y1="597" x2="676" y2="597" stroke="#666" stroke-width="3"/>
<line x1="428" y1="619.6" x2="471" y2="619.6" stroke="#6a6a6a" stroke-width="2"/>
<rect x="444.0" y="614.2" width="10.8" height="10.8" fill="#6a6a6a"/>
<text x="480.99" y="627.80" font-size="26.27" stroke="#1e1e1e" stroke-width="0.35" fill="#1e1e1e" textLength="54.41" lengthAdjust="spacingAndGlyphs">2.82</text>
<text x="552.25" y="627.80" font-size="26.27" stroke="#1e1e1e" stroke-width="0.35" fill="#1e1e1e" textLength="53.37" lengthAdjust="spacingAndGlyphs">10 s</text>
<text x="623.66" y="627.80" font-size="26.27" stroke="#1e1e1e" stroke-width="0.35" fill="#1e1e1e" textLength="39.00" lengthAdjust="spacingAndGlyphs">0 s</text>
<line x1="428" y1="661.0" x2="471" y2="661.0" stroke="#1c9a4c" stroke-width="2"/>
<circle cx="449.4" cy="661.0" r="6.3" fill="#1c9a4c"/>
<text x="481.34" y="669.20" font-size="26.27" stroke="#1e1e1e" stroke-width="0.35" fill="#1e1e1e" textLength="54.05" lengthAdjust="spacingAndGlyphs">3.17</text>
<text x="552.25" y="669.20" font-size="26.27" stroke="#1e1e1e" stroke-width="0.35" fill="#1e1e1e" textLength="53.37" lengthAdjust="spacingAndGlyphs">10 s</text>
<text x="623.66" y="669.20" font-size="26.27" stroke="#1e1e1e" stroke-width="0.35" fill="#1e1e1e" textLength="39.00" lengthAdjust="spacingAndGlyphs">0 s</text>
<line x1="428" y1="702.4" x2="471" y2="702.4" stroke="#1c2a8a" stroke-width="2"/>
<path d="M449.4,694.8 L455.8,702.4 L449.4,710.0 L443.0,702.4 Z" fill="#1c2a8a"/>
<text x="481.34" y="710.60" font-size="26.27" stroke="#1e1e1e" stroke-width="0.35" fill="#1e1e1e" textLength="54.05" lengthAdjust="spacingAndGlyphs">3.52</text>
<text x="552.25" y="710.60" font-size="26.27" stroke="#1e1e1e" stroke-width="0.35" fill="#1e1e1e" textLength="53.37" lengthAdjust="spacingAndGlyphs">10 s</text>
<text x="623.63" y="710.60" font-size="26.27" stroke="#1e1e1e" stroke-width="0.35" fill="#1e1e1e" textLength="39.03" lengthAdjust="spacingAndGlyphs">5 s</text>
<line x1="428" y1="743.8" x2="471" y2="743.8" stroke="#d62088" stroke-width="2"/>
<path d="M449.4,736.4 L456.8,749.4 L442.0,749.4 Z" fill="#d62088"/>
<text x="481.35" y="752.00" font-size="26.27" stroke="#1e1e1e" stroke-width="0.35" fill="#1e1e1e" textLength="53.86" lengthAdjust="spacingAndGlyphs">3.88</text>
<text x="561.23" y="752.00" font-size="26.27" stroke="#1e1e1e" stroke-width="0.35" fill="#1e1e1e" textLength="39.03" lengthAdjust="spacingAndGlyphs">5 s</text>
<text x="623.69" y="752.00" font-size="26.27" stroke="#1e1e1e" stroke-width="0.35" fill="#1e1e1e" textLength="38.97" lengthAdjust="spacingAndGlyphs">3 s</text>
<line x1="428" y1="785.2" x2="471" y2="785.2" stroke="#f0a020" stroke-width="2"/>
<path d="M449.4,792.6 L456.8,779.6 L442.0,779.6 Z" fill="#f0a020"/>
<text x="481.77" y="793.40" font-size="26.27" stroke="#1e1e1e" stroke-width="0.35" fill="#1e1e1e" textLength="53.62" lengthAdjust="spacingAndGlyphs">4.22</text>
<text x="560.89" y="793.40" font-size="26.27" stroke="#1e1e1e" stroke-width="0.35" fill="#1e1e1e" textLength="39.38" lengthAdjust="spacingAndGlyphs">7 s</text>
<text x="623.63" y="793.40" font-size="26.27" stroke="#1e1e1e" stroke-width="0.35" fill="#1e1e1e" textLength="39.03" lengthAdjust="spacingAndGlyphs">5 s</text>
<line x1="428" y1="826.6" x2="471" y2="826.6" stroke="#e41c24" stroke-width="2"/>
<circle cx="449.4" cy="826.6" r="6.3" fill="#e41c24"/>
<text x="481.77" y="834.80" font-size="26.27" stroke="#1e1e1e" stroke-width="0.35" fill="#1e1e1e" textLength="53.44" lengthAdjust="spacingAndGlyphs">4.93</text>
<text x="561.29" y="834.80" font-size="26.27" stroke="#1e1e1e" stroke-width="0.35" fill="#1e1e1e" textLength="38.97" lengthAdjust="spacingAndGlyphs">3 s</text>
<text x="623.63" y="834.80" font-size="26.27" stroke="#1e1e1e" stroke-width="0.35" fill="#1e1e1e" textLength="39.03" lengthAdjust="spacingAndGlyphs">5 s</text>
<line x1="825.2" y1="571.8" x2="825.2" y2="833.8" stroke="#383838" stroke-width="3"/>
<line x1="819.7" y1="828.5" x2="1118.3" y2="828.5" stroke="#383838" stroke-width="3"/>
<line x1="819.5" y1="573.5" x2="825" y2="573.5" stroke="#383838" stroke-width="2"/>
<line x1="819.5" y1="615.3" x2="825" y2="615.3" stroke="#383838" stroke-width="2"/>
<line x1="819.5" y1="657" x2="825" y2="657" stroke="#383838" stroke-width="2"/>
<line x1="819.5" y1="700.2" x2="825" y2="700.2" stroke="#383838" stroke-width="2"/>
<line x1="819.5" y1="742" x2="825" y2="742" stroke="#383838" stroke-width="2"/>
<line x1="819.5" y1="785.2" x2="825" y2="785.2" stroke="#383838" stroke-width="2"/>
<line x1="819.5" y1="827" x2="825" y2="827" stroke="#383838" stroke-width="2"/>
<line x1="846" y1="828.5" x2="846" y2="834" stroke="#383838" stroke-width="2"/>
<line x1="883.5" y1="828.5" x2="883.5" y2="834" stroke="#383838" stroke-width="2"/>
<line x1="920.2" y1="828.5" x2="920.2" y2="834" stroke="#383838" stroke-width="2"/>
<line x1="957.7" y1="828.5" x2="957.7" y2="834" stroke="#383838" stroke-width="2"/>
<line x1="994.9" y1="828.5" x2="994.9" y2="834" stroke="#383838" stroke-width="2"/>
<line x1="1032.3" y1="828.5" x2="1032.3" y2="834" stroke="#383838" stroke-width="2"/>
<line x1="1069.8" y1="828.5" x2="1069.8" y2="834" stroke="#383838" stroke-width="2"/>
<line x1="1107" y1="828.5" x2="1107" y2="834" stroke="#383838" stroke-width="2"/>
<text x="837.58" y="862.90" font-size="25.42" stroke="#1e1e1e" stroke-width="0.35" fill="#1e1e1e" textLength="14.14" lengthAdjust="spacingAndGlyphs">1</text>
<text x="875.43" y="862.90" font-size="25.42" stroke="#1e1e1e" stroke-width="0.35" fill="#1e1e1e" textLength="14.14" lengthAdjust="spacingAndGlyphs">2</text>
<text x="912.20" y="862.90" font-size="25.42" stroke="#1e1e1e" stroke-width="0.35" fill="#1e1e1e" textLength="14.14" lengthAdjust="spacingAndGlyphs">3</text>
<text x="949.71" y="862.90" font-size="25.42" stroke="#1e1e1e" stroke-width="0.35" fill="#1e1e1e" textLength="14.14" lengthAdjust="spacingAndGlyphs">4</text>
<text x="986.86" y="862.90" font-size="25.42" stroke="#1e1e1e" stroke-width="0.35" fill="#1e1e1e" textLength="14.14" lengthAdjust="spacingAndGlyphs">5</text>
<text x="1024.14" y="862.90" font-size="25.42" stroke="#1e1e1e" stroke-width="0.35" fill="#1e1e1e" textLength="14.14" lengthAdjust="spacingAndGlyphs">6</text>
<text x="1054.33" y="862.90" font-size="25.42" stroke="#1e1e1e" stroke-width="0.35" fill="#1e1e1e" textLength="28.28" lengthAdjust="spacingAndGlyphs">12</text>
<text x="1091.59" y="862.90" font-size="25.42" stroke="#1e1e1e" stroke-width="0.35" fill="#1e1e1e" textLength="28.28" lengthAdjust="spacingAndGlyphs">24</text>
<text x="739.34" y="586.00" font-size="29.24" stroke="#333" stroke-width="0.35" fill="#333" textLength="62.80" lengthAdjust="spacingAndGlyphs">4x10</text>
<text x="801.59" y="576.50" font-size="15.54" stroke="#8a8a8a" stroke-width="0.35" fill="#8a8a8a" textLength="9.13" lengthAdjust="spacingAndGlyphs">8</text>
<text x="738.89" y="669.50" font-size="29.24" stroke="#333" stroke-width="0.35" fill="#333" textLength="63.25" lengthAdjust="spacingAndGlyphs">3x10</text>
<text x="801.59" y="660.00" font-size="15.54" stroke="#8a8a8a" stroke-width="0.35" fill="#8a8a8a" textLength="9.13" lengthAdjust="spacingAndGlyphs">8</text>
<text x="738.52" y="754.50" font-size="29.24" stroke="#333" stroke-width="0.35" fill="#333" textLength="63.62" lengthAdjust="spacingAndGlyphs">2x10</text>
<text x="801.59" y="745.00" font-size="15.54" stroke="#8a8a8a" stroke-width="0.35" fill="#8a8a8a" textLength="9.13" lengthAdjust="spacingAndGlyphs">8</text>
<text x="737.74" y="839.50" font-size="29.24" stroke="#333" stroke-width="0.35" fill="#333" textLength="64.42" lengthAdjust="spacingAndGlyphs">1x10</text>
<text x="801.59" y="830.00" font-size="15.54" stroke="#8a8a8a" stroke-width="0.35" fill="#8a8a8a" textLength="9.13" lengthAdjust="spacingAndGlyphs">8</text>
<text x="876.36" y="920.20" font-size="28.78" stroke="#1e1e1e" stroke-width="0.35" fill="#1e1e1e" textLength="219.32" lengthAdjust="spacingAndGlyphs">Time after US (h)</text>
<text transform="translate(719.80,840.01) rotate(-90)" x="0" y="0" font-size="30.90" stroke="#1e1e1e" stroke-width="0.35" fill="#1e1e1e" textLength="255.66" lengthAdjust="spacingAndGlyphs">fluorescent Intensity</text>
<path d="M846,781.4 C852.1,780.9 870.3,783.3 882.7,778.5 C895.1,773.7 907.8,762.3 920.3,752.7 C932.8,743.1 945.0,728.6 957.5,720.8 C970.0,713.0 982.5,713.2 995.0,706.1 C1007.5,699.0 1019.8,694.0 1032.4,677.9 C1045.0,661.8 1057.9,623.1 1070.4,609.2 C1082.9,595.3 1101.1,597.0 1107.2,594.5" fill="none" stroke="#bf2a3a" stroke-width="2.6"/>
<line x1="846" y1="776" x2="846" y2="787" stroke="#b83040" stroke-width="2.2"/>
<line x1="840" y1="776" x2="852" y2="776" stroke="#b83040" stroke-width="2.4"/>
<line x1="840" y1="787" x2="852" y2="787" stroke="#b83040" stroke-width="2.4"/>
<rect x="841.8" y="777.1999999999999" width="8.4" height="8.4" fill="#e01e30"/>
<line x1="882.7" y1="771.6" x2="882.7" y2="786.3" stroke="#b83040" stroke-width="2.2"/>
<line x1="876.7" y1="771.6" x2="888.7" y2="771.6" stroke="#b83040" stroke-width="2.4"/>
<line x1="876.7" y1="786.3" x2="888.7" y2="786.3" stroke="#b83040" stroke-width="2.4"/>
<rect x="878.5" y="774.3" width="8.4" height="8.4" fill="#e01e30"/>
<line x1="920.3" y1="747" x2="920.3" y2="758.9" stroke="#b83040" stroke-width="2.2"/>
<line x1="914.3" y1="747" x2="926.3" y2="747" stroke="#b83040" stroke-width="2.4"/>
<line x1="914.3" y1="758.9" x2="926.3" y2="758.9" stroke="#b83040" stroke-width="2.4"/>
<rect x="916.0999999999999" y="748.5" width="8.4" height="8.4" fill="#e01e30"/>
<line x1="957.5" y1="712.8" x2="957.5" y2="728.2" stroke="#b83040" stroke-width="2.2"/>
<line x1="951.5" y1="712.8" x2="963.5" y2="712.8" stroke="#b83040" stroke-width="2.4"/>
<line x1="951.5" y1="728.2" x2="963.5" y2="728.2" stroke="#b83040" stroke-width="2.4"/>
<rect x="953.3" y="716.5999999999999" width="8.4" height="8.4" fill="#e01e30"/>
<line x1="995" y1="697.5" x2="995" y2="716" stroke="#b83040" stroke-width="2.2"/>
<line x1="989" y1="697.5" x2="1001" y2="697.5" stroke="#b83040" stroke-width="2.4"/>
<line x1="989" y1="716" x2="1001" y2="716" stroke="#b83040" stroke-width="2.4"/>
<rect x="990.8" y="701.9" width="8.4" height="8.4" fill="#e01e30"/>
<line x1="1032.4" y1="664.4" x2="1032.4" y2="691.9" stroke="#b83040" stroke-width="2.2"/>
<line x1="1026.4" y1="664.4" x2="1038.4" y2="664.4" stroke="#b83040" stroke-width="2.4"/>
<line x1="1026.4" y1="691.9" x2="1038.4" y2="691.9" stroke="#b83040" stroke-width="2.4"/>
<rect x="1028.2" y="673.6999999999999" width="8.4" height="8.4" fill="#e01e30"/>
<line x1="1070.4" y1="586" x2="1070.4" y2="632.5" stroke="#b83040" stroke-width="2.2"/>
<line x1="1064.4" y1="586" x2="1076.4" y2="586" stroke="#b83040" stroke-width="2.4"/>
<line x1="1064.4" y1="632.5" x2="1076.4" y2="632.5" stroke="#b83040" stroke-width="2.4"/>
<rect x="1066.2" y="605.0" width="8.4" height="8.4" fill="#e01e30"/>
<line x1="1107.2" y1="581" x2="1107.2" y2="610.5" stroke="#b83040" stroke-width="2.2"/>
<line x1="1101.2" y1="581" x2="1113.2" y2="581" stroke="#b83040" stroke-width="2.4"/>
<line x1="1101.2" y1="610.5" x2="1113.2" y2="610.5" stroke="#b83040" stroke-width="2.4"/>
<rect x="1103.0" y="590.3" width="8.4" height="8.4" fill="#e01e30"/>
<rect x="1191.6" y="558.4" width="199.4" height="258.8" fill="#262626"/>
<path d="M1196.5,570 Q1196,565.5 1202,565.3 Q1290,563 1380,565 Q1385.5,565 1385.5,570 L1385,788 Q1384.5,803 1366,806 Q1290,812 1216,806 Q1198,803 1197,788 Z" fill="url(#bottleV)"/>
<path d="M1196.5,570 Q1196,565.5 1202,565.3 Q1290,563 1380,565 Q1385.5,565 1385.5,570 L1385,788 Q1384.5,803 1366,806 Q1290,812 1216,806 Q1198,803 1197,788 Z" fill="url(#bottleH)"/>
<rect x="1403.4" y="557.5" width="197.6" height="259.7" fill="#262626"/>
<path d="M1412,584 Q1411.5,578.5 1418,578.3 Q1500,575 1575,572.4 Q1585.5,572 1586,582 L1585.5,788 Q1585,803 1568,806 Q1500,812 1432,806 Q1415,803 1414,788 Z" fill="url(#bottleV)"/>
<path d="M1412,584 Q1411.5,578.5 1418,578.3 Q1500,575 1575,572.4 Q1585.5,572 1586,582 L1585.5,788 Q1585,803 1568,806 Q1500,812 1432,806 Q1415,803 1414,788 Z" fill="url(#bottleH)"/>
<path d="M1265,586.4 L1312.8,586.4 C1311.8,621.4 1307.8,650.3 1293.5,686.3 Q1289.5,692.3 1285.5,686.3 C1270,650.3 1266,621.4 1265,586.4 Z" fill="none" stroke="#d84a5c" stroke-width="2" stroke-dasharray="4 3.5"/>
<path d="M1468.2,585.8 L1515.9,585.8 C1514.9,620.8 1510.9,650.3 1496,686.3 Q1492,692.3 1488,686.3 C1473.2,650.3 1469.2,620.8 1468.2,585.8 Z" fill="none" stroke="#d84a5c" stroke-width="2" stroke-dasharray="4 3.5"/>
<path d="M1272,594.5 Q1266,594.5 1266,602.5 C1266,634.5 1281.5,669.5 1289.5,691.5 C1297.5,669.5 1308.5,634.5 1308.5,602.5 Q1308.5,594.5 1302.5,594.5 Z" fill="#3020a8"/>
<path d="M1273,595.5 Q1267,595.5 1267,603.5 C1267,635.5 1281.5,666 1289.5,688 C1297.5,666 1307.5,635.5 1307.5,603.5 Q1307.5,595.5 1301.5,595.5 Z" fill="#1838d8"/>
<path d="M1274,596.5 Q1268,596.5 1268,604.5 C1268,636.5 1281.5,662 1289.5,684 C1297.5,662 1306.5,636.5 1306.5,604.5 Q1306.5,596.5 1300.5,596.5 Z" fill="#1080e8"/>
<path d="M1275,597.5 Q1269,597.5 1269,605.5 C1269,637.5 1281.5,657 1289.5,679 C1297.5,657 1305.5,637.5 1305.5,605.5 Q1305.5,597.5 1299.5,597.5 Z" fill="#10c8c0"/>
<path d="M1276,598.5 Q1270,598.5 1270,606.5 C1270,638.5 1281,651 1289,673 C1297,651 1304.5,638.5 1304.5,606.5 Q1304.5,598.5 1298.5,598.5 Z" fill="#28c838"/>
<path d="M1277.5,600 Q1271.5,600 1271.5,608 C1271.5,640 1281,645 1289,667 C1297,645 1303,640 1303,608 Q1303,600 1297,600 Z" fill="#90d820"/>
<path d="M1279,601 Q1273,601 1273,609 C1273,641 1280.5,642 1288.5,664 C1296.5,642 1302,641 1302,609 Q1302,601 1296,601 Z" fill="#f0e020"/>
<path d="M1280,602 Q1274,602 1274,610 C1274,642 1280,640 1288,662 C1296,640 1301,642 1301,610 Q1301,602 1295,602 Z" fill="#f88010"/>
<path d="M1280,602 Q1276,602 1276,608 C1276,630 1280,650 1288,659 C1296,650 1300,630 1300,608 Q1300,602 1296,602 Z" fill="#f80000"/>
<rect x="1637.1" y="575" width="10.7" height="240.8" fill="url(#rainbow)"/>
<text x="1616.01" y="564.40" font-size="23.26" stroke="#1e1e1e" stroke-width="0.35" fill="#1e1e1e" textLength="54.93" lengthAdjust="spacingAndGlyphs">High</text>
<text x="1618.15" y="844.80" font-size="31.98" stroke="#1e1e1e" stroke-width="0.35" fill="#1e1e1e" textLength="52.58" lengthAdjust="spacingAndGlyphs">Low</text>
<text x="1266.70" y="535.30" font-size="28.05" stroke="#1e1e1e" stroke-width="0.35" fill="#1e1e1e" textLength="87.05" lengthAdjust="spacingAndGlyphs">US (+)</text>
<text x="1474.89" y="539.50" font-size="28.05" stroke="#1e1e1e" stroke-width="0.35" fill="#1e1e1e" textLength="79.97" lengthAdjust="spacingAndGlyphs">US (-)</text>
<path d="M1283.5,741 L1286.5,741 L1312.8,842.8 L1253.6,842.8 Z" fill="url(#coneF)" opacity="0.82"/>
<path d="M1247.5,857.2 Q1248.5,848.2 1282.5,848.2 Q1316.5,848.2 1317.5,857.2 L1316.0,872.5 C1314.5,879.5 1308.5,880.5 1307.5,886.5 L1304.5,903 C1303.5,908 1298.5,911 1282.5,911 C1267,911 1262,908 1261,903 L1258,886.5 C1257,880.5 1250.5,879.5 1249.0,872.5 Z" fill="url(#transF)"/><path d="M1248.5,858.2 Q1282.5,863.2 1316.5,858.2" fill="none" stroke="#7e7e7e" stroke-width="2.5" opacity="0.8"/><ellipse cx="1281.8" cy="858.5" rx="2.8" ry="1.8" fill="#2a2a40"/>
<path d="M1455.6,859 Q1456.6,850 1491.5,850 Q1526.4,850 1527.4,859 L1525.9,874 C1524.4,881 1518.4,882 1517.4,888 L1514.4,903.9 C1513.4,908.9 1508.4,911.9 1491.5,911.9 C1475.5,911.9 1470.5,908.9 1469.5,903.9 L1466.5,888 C1465.5,882 1458.6,881 1457.1,874 Z" fill="url(#transF)"/><path d="M1456.6,860 Q1491.5,865 1526.4,860" fill="none" stroke="#7e7e7e" stroke-width="2.5" opacity="0.8"/><ellipse cx="1492" cy="861.9" rx="2.8" ry="1.8" fill="#2a2a40"/>
</svg>
</body></html>
